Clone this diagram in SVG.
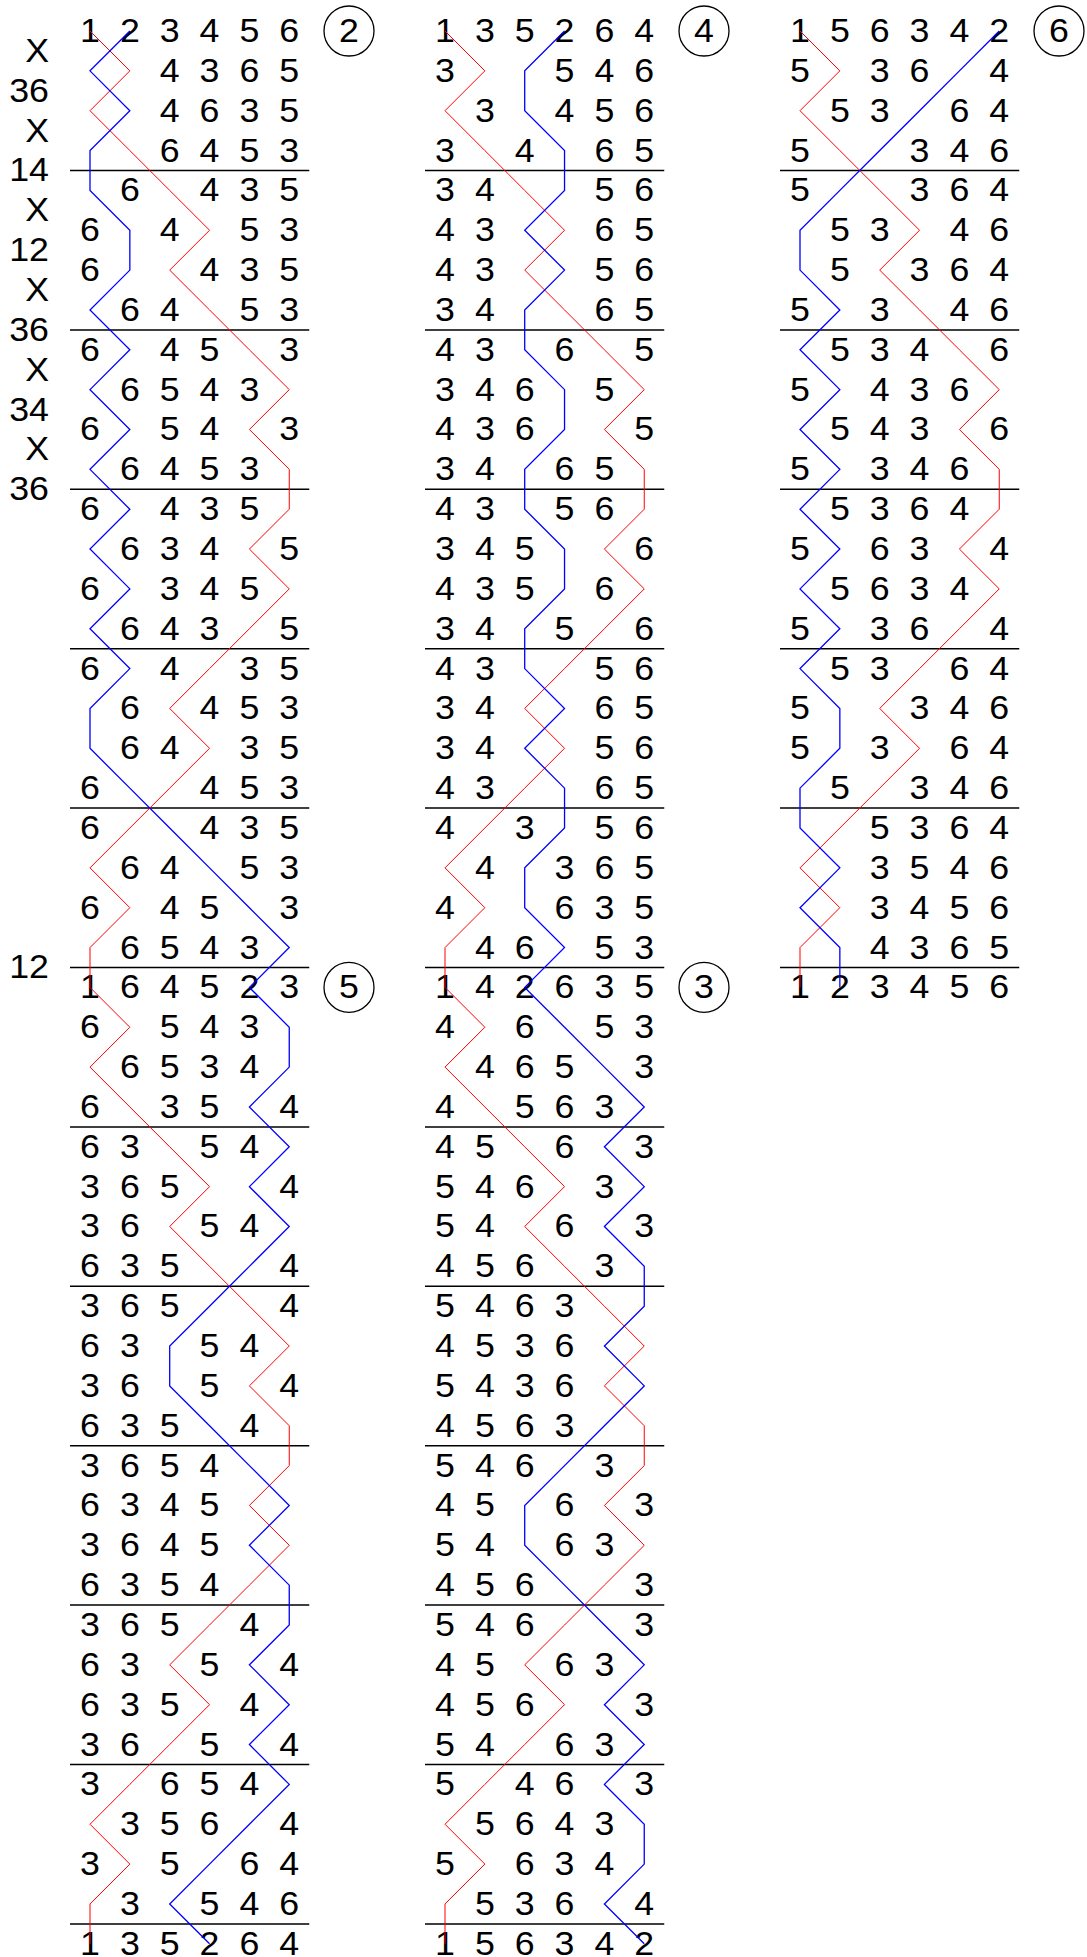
<svg xmlns="http://www.w3.org/2000/svg" xmlns:xlink="http://www.w3.org/1999/xlink" width="1087" height="1957" viewBox="0 0 1087 1957">
<style>
.d{font-family:"Liberation Sans",Arial,Helvetica,sans-serif;font-size:32.5px;fill:#000;text-anchor:middle}
.lb{font-family:"Liberation Sans",Arial,Helvetica,sans-serif;font-size:32.5px;fill:#000;text-anchor:end}
.sep{fill:none;stroke:#000;stroke-width:1.5}
.red{fill:none;stroke:#ff0000;stroke-width:1}
.blue{fill:none;stroke:#0000ff;stroke-width:1.3}
.circ{fill:none;stroke:#000;stroke-width:1.3}
</style>
<defs>
<polyline id="treble" points="0,31 39.85,70.85 0,110.7 39.85,150.55 79.7,190.4 119.55,230.25 79.7,270.1 119.55,309.95 159.4,349.8 199.25,389.65 159.4,429.5 199.25,469.35 199.25,509.2 159.4,549.05 199.25,588.9 159.4,628.75 119.55,668.6 79.7,708.45 119.55,748.3 79.7,788.15 39.85,828 0,867.85 39.85,907.7 0,947.55 0,987.4"/>
</defs>
<rect width="1087" height="1957" fill="#fff"/>

<g id="place-notation" transform="scale(1.1,1)">
<text class="lb" x="44.55" y="61.93">X</text>
<text class="lb" x="44.55" y="101.78">36</text>
<text class="lb" x="44.55" y="141.63">X</text>
<text class="lb" x="44.55" y="181.48">14</text>
<text class="lb" x="44.55" y="221.33">X</text>
<text class="lb" x="44.55" y="261.18">12</text>
<text class="lb" x="44.55" y="301.03">X</text>
<text class="lb" x="44.55" y="340.88">36</text>
<text class="lb" x="44.55" y="380.73">X</text>
<text class="lb" x="44.55" y="420.58">34</text>
<text class="lb" x="44.55" y="460.43">X</text>
<text class="lb" x="44.55" y="500.28">36</text>
<text class="lb" x="44.55" y="978.48">12</text>
</g>

<g id="column1" transform="translate(90,0)">
<path class="sep" d="M-20 170.48H219.25M-20 329.88H219.25M-20 489.28H219.25M-20 648.68H219.25M-20 808.08H219.25M-20 967.48H219.25M-20 1126.88H219.25M-20 1286.28H219.25M-20 1445.68H219.25M-20 1605.08H219.25M-20 1764.48H219.25M-20 1923.88H219.25"/>
<circle class="circ" cx="259" cy="31" r="25"/>
<circle class="circ" cx="259" cy="987.4" r="25"/>
<g class="rows" transform="scale(1.1,1)">
<text class="d" x="235.45" y="42">2</text>
<text class="d" x="235.45" y="998.4">5</text>
<text class="d" x="0 36.23 72.45 108.68 144.91 181.14" y="42">123456</text>
<text class="d" x="72.45 108.68 144.91 181.14" y="81.85">4365</text>
<text class="d" x="72.45 108.68 144.91 181.14" y="121.7">4635</text>
<text class="d" x="72.45 108.68 144.91 181.14" y="161.55">6453</text>
<text class="d" x="36.23 108.68 144.91 181.14" y="201.4">6435</text>
<text class="d" x="0 72.45 144.91 181.14" y="241.25">6453</text>
<text class="d" x="0 108.68 144.91 181.14" y="281.1">6435</text>
<text class="d" x="36.23 72.45 144.91 181.14" y="320.95">6453</text>
<text class="d" x="0 72.45 108.68 181.14" y="360.8">6453</text>
<text class="d" x="36.23 72.45 108.68 144.91" y="400.65">6543</text>
<text class="d" x="0 72.45 108.68 181.14" y="440.5">6543</text>
<text class="d" x="36.23 72.45 108.68 144.91" y="480.35">6453</text>
<text class="d" x="0 72.45 108.68 144.91" y="520.2">6435</text>
<text class="d" x="36.23 72.45 108.68 181.14" y="560.05">6345</text>
<text class="d" x="0 72.45 108.68 144.91" y="599.9">6345</text>
<text class="d" x="36.23 72.45 108.68 181.14" y="639.75">6435</text>
<text class="d" x="0 72.45 144.91 181.14" y="679.6">6435</text>
<text class="d" x="36.23 108.68 144.91 181.14" y="719.45">6453</text>
<text class="d" x="36.23 72.45 144.91 181.14" y="759.3">6435</text>
<text class="d" x="0 108.68 144.91 181.14" y="799.15">6453</text>
<text class="d" x="0 108.68 144.91 181.14" y="839">6435</text>
<text class="d" x="36.23 72.45 144.91 181.14" y="878.85">6453</text>
<text class="d" x="0 72.45 108.68 181.14" y="918.7">6453</text>
<text class="d" x="36.23 72.45 108.68 144.91" y="958.55">6543</text>
<text class="d" x="0 36.23 72.45 108.68 144.91 181.14" y="998.4">164523</text>
<text class="d" x="0 72.45 108.68 144.91" y="1038.25">6543</text>
<text class="d" x="36.23 72.45 108.68 144.91" y="1078.1">6534</text>
<text class="d" x="0 72.45 108.68 181.14" y="1117.95">6354</text>
<text class="d" x="0 36.23 108.68 144.91" y="1157.8">6354</text>
<text class="d" x="0 36.23 72.45 181.14" y="1197.65">3654</text>
<text class="d" x="0 36.23 108.68 144.91" y="1237.5">3654</text>
<text class="d" x="0 36.23 72.45 181.14" y="1277.35">6354</text>
<text class="d" x="0 36.23 72.45 181.14" y="1317.2">3654</text>
<text class="d" x="0 36.23 108.68 144.91" y="1357.05">6354</text>
<text class="d" x="0 36.23 108.68 181.14" y="1396.9">3654</text>
<text class="d" x="0 36.23 72.45 144.91" y="1436.75">6354</text>
<text class="d" x="0 36.23 72.45 108.68" y="1476.6">3654</text>
<text class="d" x="0 36.23 72.45 108.68" y="1516.45">6345</text>
<text class="d" x="0 36.23 72.45 108.68" y="1556.3">3645</text>
<text class="d" x="0 36.23 72.45 108.68" y="1596.15">6354</text>
<text class="d" x="0 36.23 72.45 144.91" y="1636">3654</text>
<text class="d" x="0 36.23 108.68 181.14" y="1675.85">6354</text>
<text class="d" x="0 36.23 72.45 144.91" y="1715.7">6354</text>
<text class="d" x="0 36.23 108.68 181.14" y="1755.55">3654</text>
<text class="d" x="0 72.45 108.68 144.91" y="1795.4">3654</text>
<text class="d" x="36.23 72.45 108.68 181.14" y="1835.25">3564</text>
<text class="d" x="0 72.45 144.91 181.14" y="1875.1">3564</text>
<text class="d" x="36.23 108.68 144.91 181.14" y="1914.95">3546</text>
<text class="d" x="0 36.23 72.45 108.68 144.91 181.14" y="1954.8">135264</text>
</g>
</g>

<g id="column2" transform="translate(445,0)">
<path class="sep" d="M-20 170.48H219.25M-20 329.88H219.25M-20 489.28H219.25M-20 648.68H219.25M-20 808.08H219.25M-20 967.48H219.25M-20 1126.88H219.25M-20 1286.28H219.25M-20 1445.68H219.25M-20 1605.08H219.25M-20 1764.48H219.25M-20 1923.88H219.25"/>
<circle class="circ" cx="259" cy="31" r="25"/>
<circle class="circ" cx="259" cy="987.4" r="25"/>
<g class="rows" transform="scale(1.1,1)">
<text class="d" x="235.45" y="42">4</text>
<text class="d" x="235.45" y="998.4">3</text>
<text class="d" x="0 36.23 72.45 108.68 144.91 181.14" y="42">135264</text>
<text class="d" x="0 108.68 144.91 181.14" y="81.85">3546</text>
<text class="d" x="36.23 108.68 144.91 181.14" y="121.7">3456</text>
<text class="d" x="0 72.45 144.91 181.14" y="161.55">3465</text>
<text class="d" x="0 36.23 144.91 181.14" y="201.4">3456</text>
<text class="d" x="0 36.23 144.91 181.14" y="241.25">4365</text>
<text class="d" x="0 36.23 144.91 181.14" y="281.1">4356</text>
<text class="d" x="0 36.23 144.91 181.14" y="320.95">3465</text>
<text class="d" x="0 36.23 108.68 181.14" y="360.8">4365</text>
<text class="d" x="0 36.23 72.45 144.91" y="400.65">3465</text>
<text class="d" x="0 36.23 72.45 181.14" y="440.5">4365</text>
<text class="d" x="0 36.23 108.68 144.91" y="480.35">3465</text>
<text class="d" x="0 36.23 108.68 144.91" y="520.2">4356</text>
<text class="d" x="0 36.23 72.45 181.14" y="560.05">3456</text>
<text class="d" x="0 36.23 72.45 144.91" y="599.9">4356</text>
<text class="d" x="0 36.23 108.68 181.14" y="639.75">3456</text>
<text class="d" x="0 36.23 144.91 181.14" y="679.6">4356</text>
<text class="d" x="0 36.23 144.91 181.14" y="719.45">3465</text>
<text class="d" x="0 36.23 144.91 181.14" y="759.3">3456</text>
<text class="d" x="0 36.23 144.91 181.14" y="799.15">4365</text>
<text class="d" x="0 72.45 144.91 181.14" y="839">4356</text>
<text class="d" x="36.23 108.68 144.91 181.14" y="878.85">4365</text>
<text class="d" x="0 108.68 144.91 181.14" y="918.7">4635</text>
<text class="d" x="36.23 72.45 144.91 181.14" y="958.55">4653</text>
<text class="d" x="0 36.23 72.45 108.68 144.91 181.14" y="998.4">142635</text>
<text class="d" x="0 72.45 144.91 181.14" y="1038.25">4653</text>
<text class="d" x="36.23 72.45 108.68 181.14" y="1078.1">4653</text>
<text class="d" x="0 72.45 108.68 144.91" y="1117.95">4563</text>
<text class="d" x="0 36.23 108.68 181.14" y="1157.8">4563</text>
<text class="d" x="0 36.23 72.45 144.91" y="1197.65">5463</text>
<text class="d" x="0 36.23 108.68 181.14" y="1237.5">5463</text>
<text class="d" x="0 36.23 72.45 144.91" y="1277.35">4563</text>
<text class="d" x="0 36.23 72.45 108.68" y="1317.2">5463</text>
<text class="d" x="0 36.23 72.45 108.68" y="1357.05">4536</text>
<text class="d" x="0 36.23 72.45 108.68" y="1396.9">5436</text>
<text class="d" x="0 36.23 72.45 108.68" y="1436.75">4563</text>
<text class="d" x="0 36.23 72.45 144.91" y="1476.6">5463</text>
<text class="d" x="0 36.23 108.68 181.14" y="1516.45">4563</text>
<text class="d" x="0 36.23 108.68 144.91" y="1556.3">5463</text>
<text class="d" x="0 36.23 72.45 181.14" y="1596.15">4563</text>
<text class="d" x="0 36.23 72.45 181.14" y="1636">5463</text>
<text class="d" x="0 36.23 108.68 144.91" y="1675.85">4563</text>
<text class="d" x="0 36.23 72.45 181.14" y="1715.7">4563</text>
<text class="d" x="0 36.23 108.68 144.91" y="1755.55">5463</text>
<text class="d" x="0 72.45 108.68 181.14" y="1795.4">5463</text>
<text class="d" x="36.23 72.45 108.68 144.91" y="1835.25">5643</text>
<text class="d" x="0 72.45 108.68 144.91" y="1875.1">5634</text>
<text class="d" x="36.23 72.45 108.68 181.14" y="1914.95">5364</text>
<text class="d" x="0 36.23 72.45 108.68 144.91 181.14" y="1954.8">156342</text>
</g>
</g>

<g id="column3" transform="translate(800,0)">
<path class="sep" d="M-20 170.48H219.25M-20 329.88H219.25M-20 489.28H219.25M-20 648.68H219.25M-20 808.08H219.25M-20 967.48H219.25"/>
<circle class="circ" cx="259" cy="31" r="25"/>
<g class="rows" transform="scale(1.1,1)">
<text class="d" x="235.45" y="42">6</text>
<text class="d" x="0 36.23 72.45 108.68 144.91 181.14" y="42">156342</text>
<text class="d" x="0 72.45 108.68 181.14" y="81.85">5364</text>
<text class="d" x="36.23 72.45 144.91 181.14" y="121.7">5364</text>
<text class="d" x="0 108.68 144.91 181.14" y="161.55">5346</text>
<text class="d" x="0 108.68 144.91 181.14" y="201.4">5364</text>
<text class="d" x="36.23 72.45 144.91 181.14" y="241.25">5346</text>
<text class="d" x="36.23 108.68 144.91 181.14" y="281.1">5364</text>
<text class="d" x="0 72.45 144.91 181.14" y="320.95">5346</text>
<text class="d" x="36.23 72.45 108.68 181.14" y="360.8">5346</text>
<text class="d" x="0 72.45 108.68 144.91" y="400.65">5436</text>
<text class="d" x="36.23 72.45 108.68 181.14" y="440.5">5436</text>
<text class="d" x="0 72.45 108.68 144.91" y="480.35">5346</text>
<text class="d" x="36.23 72.45 108.68 144.91" y="520.2">5364</text>
<text class="d" x="0 72.45 108.68 181.14" y="560.05">5634</text>
<text class="d" x="36.23 72.45 108.68 144.91" y="599.9">5634</text>
<text class="d" x="0 72.45 108.68 181.14" y="639.75">5364</text>
<text class="d" x="36.23 72.45 144.91 181.14" y="679.6">5364</text>
<text class="d" x="0 108.68 144.91 181.14" y="719.45">5346</text>
<text class="d" x="0 72.45 144.91 181.14" y="759.3">5364</text>
<text class="d" x="36.23 108.68 144.91 181.14" y="799.15">5346</text>
<text class="d" x="72.45 108.68 144.91 181.14" y="839">5364</text>
<text class="d" x="72.45 108.68 144.91 181.14" y="878.85">3546</text>
<text class="d" x="72.45 108.68 144.91 181.14" y="918.7">3456</text>
<text class="d" x="72.45 108.68 144.91 181.14" y="958.55">4365</text>
<text class="d" x="0 36.23 72.45 108.68 144.91 181.14" y="998.4">123456</text>
</g>
</g>

<g id="connectors">
<use xlink:href="#treble" href="#treble" class="red" transform="translate(90,0)"/>
<use xlink:href="#treble" href="#treble" class="red" transform="translate(90,956.4)"/>
<use xlink:href="#treble" href="#treble" class="red" transform="translate(445,0)"/>
<use xlink:href="#treble" href="#treble" class="red" transform="translate(445,956.4)"/>
<use xlink:href="#treble" href="#treble" class="red" transform="translate(800,0)"/>
<polyline class="blue" transform="translate(90,0)" points="39.85,31 0,70.85 39.85,110.7 0,150.55 0,190.4 39.85,230.25 39.85,270.1 0,309.95 39.85,349.8 0,389.65 39.85,429.5 0,469.35 39.85,509.2 0,549.05 39.85,588.9 0,628.75 39.85,668.6 0,708.45 0,748.3 39.85,788.15 79.7,828 119.55,867.85 159.4,907.7 199.25,947.55 159.4,987.4 199.25,1027.25 199.25,1067.1 159.4,1106.95 199.25,1146.8 159.4,1186.65 199.25,1226.5 159.4,1266.35 119.55,1306.2 79.7,1346.05 79.7,1385.9 119.55,1425.75 159.4,1465.6 199.25,1505.45 159.4,1545.3 199.25,1585.15 199.25,1625 159.4,1664.85 199.25,1704.7 159.4,1744.55 199.25,1784.4 159.4,1824.25 119.55,1864.1 79.7,1903.95 119.55,1943.8"/>
<polyline class="blue" transform="translate(445,0)" points="119.55,31 79.7,70.85 79.7,110.7 119.55,150.55 119.55,190.4 79.7,230.25 119.55,270.1 79.7,309.95 79.7,349.8 119.55,389.65 119.55,429.5 79.7,469.35 79.7,509.2 119.55,549.05 119.55,588.9 79.7,628.75 79.7,668.6 119.55,708.45 79.7,748.3 119.55,788.15 119.55,828 79.7,867.85 79.7,907.7 119.55,947.55 79.7,987.4 119.55,1027.25 159.4,1067.1 199.25,1106.95 159.4,1146.8 199.25,1186.65 159.4,1226.5 199.25,1266.35 199.25,1306.2 159.4,1346.05 199.25,1385.9 159.4,1425.75 119.55,1465.6 79.7,1505.45 79.7,1545.3 119.55,1585.15 159.4,1625 199.25,1664.85 159.4,1704.7 199.25,1744.55 159.4,1784.4 199.25,1824.25 199.25,1864.1 159.4,1903.95 199.25,1943.8"/>
<polyline class="blue" transform="translate(800,0)" points="199.25,31 159.4,70.85 119.55,110.7 79.7,150.55 39.85,190.4 0,230.25 0,270.1 39.85,309.95 0,349.8 39.85,389.65 0,429.5 39.85,469.35 0,509.2 39.85,549.05 0,588.9 39.85,628.75 0,668.6 39.85,708.45 39.85,748.3 0,788.15 0,828 39.85,867.85 0,907.7 39.85,947.55 39.85,987.4"/>
</g>
</svg>
